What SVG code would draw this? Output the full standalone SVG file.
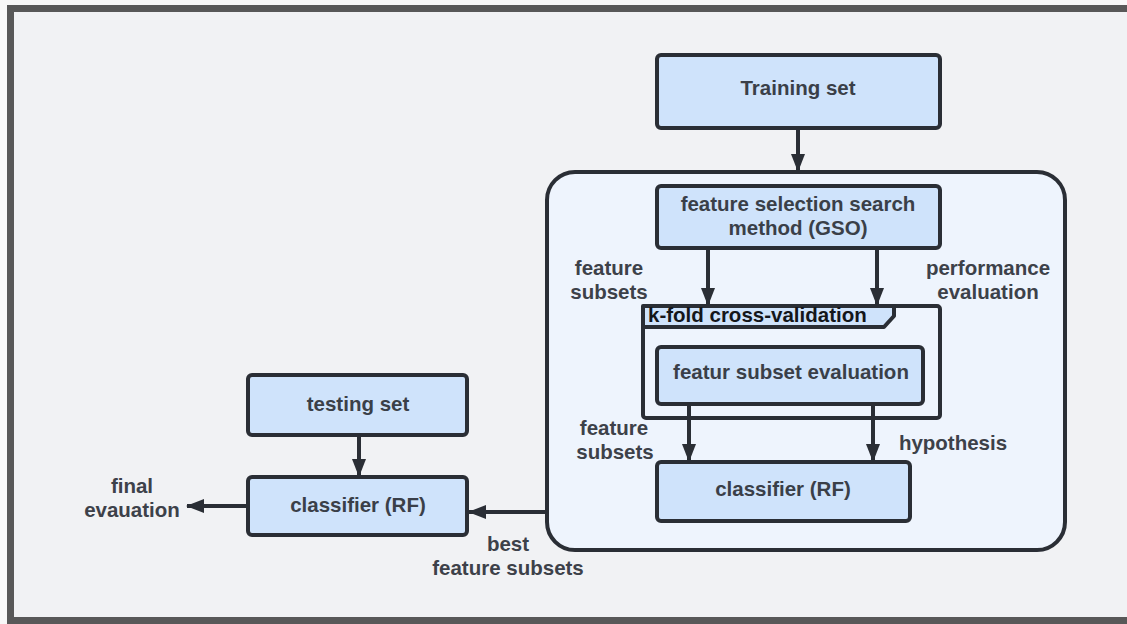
<svg xmlns="http://www.w3.org/2000/svg" width="1127" height="624" viewBox="0 0 1127 624">
<defs>
<style>
.box{fill:#cfe3fb;stroke:#2a2e35;stroke-width:4}
.t{font-family:"Liberation Sans",Arial,sans-serif;font-weight:bold;font-size:20.5px;fill:#3a3f48;text-anchor:middle}
.lbl{font-family:"Liberation Sans",Arial,sans-serif;font-weight:bold;font-size:20.5px;fill:#3d4149;text-anchor:middle}
.edge{fill:none;stroke:#2a2e35;stroke-width:4}
</style>
<marker id="ah" markerWidth="18" markerHeight="14" refX="17" refY="7" orient="auto" markerUnits="userSpaceOnUse">
<path d="M0,0 L18,7 L0,14 Z" fill="#2a2e35"/>
</marker>
</defs>
<rect x="0" y="0" width="1127" height="624" fill="#f8f8f8"/>
<rect x="10.5" y="8.5" width="1140" height="612" fill="#f1f2f4" stroke="#585858" stroke-width="7"/>
<g id="container">
<rect x="547" y="172" width="518" height="378" rx="28" fill="#eef4fd" stroke="#2a2e35" stroke-width="4"/>
</g>
<g id="training-set">
<rect class="box" x="657" y="55" width="283" height="73" rx="4"/>
<text class="t" x="798" y="95">Training set</text>
</g>
<g id="gso">
<rect class="box" x="657" y="186" width="283" height="62" rx="4"/>
<text class="t" x="798" y="211">feature selection search</text>
<text class="t" x="798" y="235">method (GSO)</text>
</g>
<g id="kfold">
<rect x="643" y="306" width="297" height="112" rx="3" fill="none" stroke="#2a2e35" stroke-width="4"/>
<path d="M643,306 L894,306 L894,316 L884,327 L643,327 Z" fill="#cfe3fb" stroke="#2a2e35" stroke-width="4" stroke-linejoin="round"/>
<text x="648" y="322" style="font-family:'Liberation Sans',Arial,sans-serif;font-weight:bold;font-size:20.5px;fill:#14161a">k-fold cross-validation</text>
</g>
<g id="subset-eval">
<rect class="box" x="657" y="347" width="266" height="57" rx="4"/>
<text class="t" x="791" y="379">featur subset evaluation</text>
</g>
<g id="classifier-inner">
<rect class="box" x="657" y="462" width="253" height="59" rx="4"/>
<text class="t" x="783" y="496">classifier (RF)</text>
</g>
<g id="testing-set">
<rect class="box" x="248" y="375" width="219" height="60" rx="4"/>
<text class="t" x="358" y="411">testing set</text>
</g>
<g id="classifier-outer">
<rect class="box" x="248" y="477" width="219" height="58" rx="4"/>
<text class="t" x="358" y="512">classifier (RF)</text>
</g>
<g id="connectors">
<line class="edge" x1="798" y1="128" x2="798" y2="171" marker-end="url(#ah)"/>
<line class="edge" x1="708" y1="248" x2="708" y2="305" marker-end="url(#ah)"/>
<line class="edge" x1="877" y1="248" x2="877" y2="305" marker-end="url(#ah)"/>
<line class="edge" x1="689" y1="404" x2="689" y2="461" marker-end="url(#ah)"/>
<line class="edge" x1="873" y1="404" x2="873" y2="461" marker-end="url(#ah)"/>
<line class="edge" x1="359" y1="435" x2="359" y2="476" marker-end="url(#ah)"/>
<line class="edge" x1="547" y1="512" x2="469" y2="512" marker-end="url(#ah)"/>
<line class="edge" x1="248" y1="506" x2="187" y2="506" marker-end="url(#ah)"/>
</g>
<g id="labels">
<text class="lbl" x="609" y="275">feature</text>
<text class="lbl" x="609" y="299">subsets</text>
<text class="lbl" x="988" y="275">performance</text>
<text class="lbl" x="988" y="299">evaluation</text>
<text class="lbl" x="614" y="435">feature</text>
<text class="lbl" x="615" y="459">subsets</text>
<text class="lbl" x="953" y="450">hypothesis</text>
<text class="lbl" x="132" y="493">final</text>
<text class="lbl" x="132" y="517">evauation</text>
<text class="lbl" x="508" y="551">best</text>
<text class="lbl" x="508" y="575">feature subsets</text>
</g>
</svg>
